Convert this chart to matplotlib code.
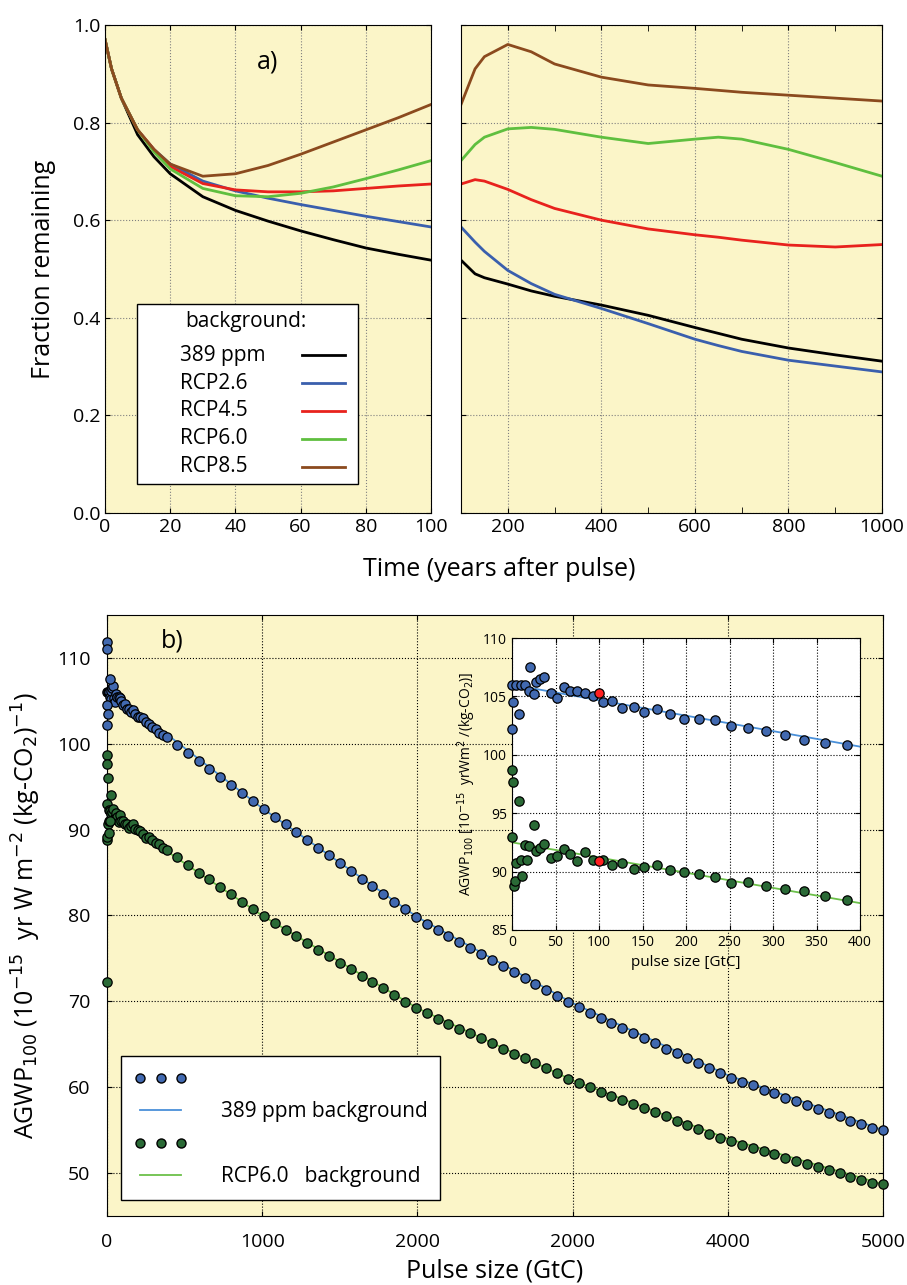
import matplotlib
matplotlib.use("Agg")
import matplotlib.pyplot as plt
from matplotlib.lines import Line2D
from matplotlib.patches import Rectangle

plt.rcParams['font.family'] = ['Open Sans', 'DejaVu Sans']

# ---- panel a) fraction remaining
yrs_a = [0, 2, 5, 10, 15, 20, 30, 40, 50, 60, 70, 80, 90, 100]
short = {
    "389 ppm": [0.97, 0.91, 0.85, 0.775, 0.73, 0.695, 0.648, 0.62, 0.598, 0.578, 0.56, 0.543, 0.53, 0.518],
    "RCP2.6": [0.97, 0.91, 0.85, 0.785, 0.745, 0.715, 0.68, 0.66, 0.645, 0.632, 0.62, 0.608, 0.597, 0.586],
    "RCP4.5": [0.97, 0.91, 0.85, 0.785, 0.745, 0.71, 0.675, 0.662, 0.658, 0.658, 0.66, 0.665, 0.67, 0.674],
    "RCP6.0": [0.97, 0.91, 0.85, 0.785, 0.74, 0.705, 0.665, 0.65, 0.648, 0.655, 0.668, 0.685, 0.703, 0.722],
    "RCP8.5": [0.97, 0.91, 0.85, 0.785, 0.745, 0.715, 0.69, 0.695, 0.712, 0.735, 0.76, 0.785, 0.81, 0.837],
}
yrs_b = [100, 130, 150, 200, 250, 300, 400, 500, 600, 650, 700, 800, 900, 1000]
long = {
    "389 ppm": [0.518, 0.49, 0.482, 0.469, 0.455, 0.444, 0.426, 0.405, 0.38, 0.368, 0.356, 0.338, 0.324, 0.311],
    "RCP2.6": [0.586, 0.555, 0.536, 0.497, 0.47, 0.448, 0.419, 0.388, 0.356, 0.343, 0.331, 0.313, 0.301, 0.289],
    "RCP4.5": [0.674, 0.683, 0.68, 0.663, 0.642, 0.624, 0.60, 0.582, 0.57, 0.565, 0.559, 0.549, 0.545, 0.55],
    "RCP6.0": [0.722, 0.755, 0.77, 0.787, 0.79, 0.786, 0.77, 0.757, 0.766, 0.77, 0.766, 0.745, 0.718, 0.69],
    "RCP8.5": [0.837, 0.91, 0.935, 0.96, 0.945, 0.92, 0.893, 0.877, 0.87, 0.866, 0.862, 0.856, 0.85, 0.844],
}
colors_a = {"389 ppm": "black", "RCP2.6": "#3a5fad", "RCP4.5": "#e8221d",
            "RCP6.0": "#5fbf3f", "RCP8.5": "#8b4a1e"}

# ---- panel b) AGWP100 vs pulse size
pulse_small = [0, 5, 10, 15, 20, 25, 28, 32, 37, 45, 52, 60, 67, 75, 84, 93, 105, 115, 127,
               140, 152, 167, 182, 198, 215, 233, 252, 271, 292, 314, 336, 360, 385]
agwp_389_small = [106, 106, 106, 106, 105.5, 105.2, 106.2, 106.5, 106.7, 105.3, 104.9, 105.8, 105.5,
                  105.5, 105.3, 105, 104.5, 104.6, 104, 104.1, 103.7, 103.9, 103.5, 103.1, 103.1,
                  103, 102.5, 102.3, 102, 101.7, 101.3, 101, 100.8]
agwp_rcp_small = [93, 90.7, 91, 92.3, 92.2, 94, 91.8, 92, 92.4, 91.2, 91.3, 91.9, 91.5, 90.9, 91.7,
                  91, 91, 90.6, 90.7, 90.2, 90.4, 90.6, 90.1, 90, 89.8, 89.5, 89, 89.1, 88.8, 88.5,
                  88.3, 87.9, 87.6]
outl_389_x = [0, 1, 8, 21, 0, 0]
outl_389_y = [102.2, 104.5, 103.5, 107.5, 111.8, 111.0]
outl_rcp_x = [0, 1, 8, 2, 3, 12, 17, 0]
outl_rcp_y = [98.7, 97.7, 96, 88.8, 89.2, 89.6, 91, 72.3]
red_x = [100, 100]
red_y = [105.3, 90.9]

pulse_big = list(range(450, 5001, 70))
agwp_389_big = [99.9, 98.9, 98.0, 97.1, 96.1, 95.2, 94.3, 93.3, 92.4, 91.5, 90.6, 89.7, 88.8, 87.9,
                87.0, 86.1, 85.2, 84.3, 83.4, 82.5, 81.6, 80.7, 79.8, 79.0, 78.3, 77.6, 76.9, 76.2,
                75.5, 74.8, 74.1, 73.4, 72.7, 72.0, 71.3, 70.6, 69.9, 69.3, 68.7, 68.1, 67.5, 66.9,
                66.3, 65.7, 65.1, 64.5, 64.0, 63.4, 62.8, 62.2, 61.6, 61.1, 60.6, 60.2, 59.7, 59.3,
                58.8, 58.4, 57.9, 57.5, 57.0, 56.6, 56.1, 55.7, 55.2, 55.0]
agwp_rcp_big = [86.8, 85.9, 85.0, 84.2, 83.3, 82.5, 81.6, 80.8, 79.9, 79.1, 78.3, 77.6, 76.8, 76.0,
                75.3, 74.5, 73.8, 73.0, 72.3, 71.5, 70.7, 69.9, 69.2, 68.6, 68.0, 67.4, 66.8, 66.3,
                65.7, 65.1, 64.5, 63.9, 63.4, 62.8, 62.2, 61.6, 61.0, 60.5, 60.0, 59.5, 59.0, 58.5,
                58.0, 57.6, 57.1, 56.6, 56.1, 55.6, 55.1, 54.6, 54.1, 53.7, 53.3, 52.9, 52.6, 52.2,
                51.8, 51.4, 51.1, 50.7, 50.3, 50.0, 49.6, 49.2, 48.9, 48.7]
fit_x = [0, 400, 1000, 2000, 3000, 4000, 5000]
fit_389 = [106, 100.9, 92.5, 79.8, 69.8, 61.4, 55.0]
fit_rcp = [92.0, 87.3, 80.0, 69.2, 60.8, 54.0, 48.7]

bg = "#fbf5c8"
dot_blue = "#4169b0"
dot_green = "#2a6a36"
line_blue = "#4a90d9"
line_green = "#6cc04a"

fig = plt.figure(figsize=(9.07, 12.85), dpi=100)

ax1 = fig.add_axes([0.1158, 0.6008, 0.3594, 0.3798])
ax2 = fig.add_axes([0.5083, 0.6008, 0.4642, 0.3798])
for name in short:
    ax1.plot(yrs_a, short[name], color=colors_a[name], lw=2, label=name)
    ax2.plot(yrs_b, long[name], color=colors_a[name], lw=2)
ax1.set_xlim(0, 100)
ax2.set_xlim(100, 1000)
for ax in (ax1, ax2):
    ax.set_facecolor(bg)
    ax.set_ylim(0, 1.0)
    ax.grid(True, ls=':', color='gray', lw=0.8)
    ax.tick_params(labelsize=14, direction='in', top=True, right=True, which='both')
ax1.set_xticks([0, 20, 40, 60, 80, 100])
ax1.set_yticks([0, 0.2, 0.4, 0.6, 0.8, 1.0])
ax2.set_xticks([200, 400, 600, 800, 1000])
ax2.set_xticks([300, 500, 700, 900], minor=True)
ax2.set_yticks([0, 0.2, 0.4, 0.6, 0.8, 1.0])
ax2.tick_params(labelleft=False)
ax2.tick_params(which='minor', length=4)
ax1.set_ylabel("Fraction remaining", fontsize=18, labelpad=12)
ax1.text(50, 0.95, "a)", fontsize=18, va='top', ha='center')
fig.text(0.55, 0.557, "Time (years after pulse)", fontsize=18, ha='center', va='center')

# legend of panel a): labels on the left, keys on the right
tr = ax1.transAxes
ax1.add_patch(Rectangle((0.098, 0.06), 0.678, 0.369, transform=tr, facecolor='white',
                        edgecolor='black', lw=1, zorder=5))
ax1.text(0.245, 0.392, "background:", transform=tr, fontsize=15, va='center', zorder=6)
for i, name in enumerate(short):
    yy = 0.323 - i * 0.057
    ax1.text(0.23, yy, name, transform=tr, fontsize=15, va='center', zorder=6)
    ax1.plot([0.605, 0.735], [yy, yy], transform=tr, color=colors_a[name], lw=2, zorder=6)

# ---- bottom panel
ax3 = fig.add_axes([0.118, 0.0537, 0.8556, 0.4677])
ax3.set_facecolor(bg)
ax3.plot(fit_x, fit_389, color=line_blue, lw=1.3, zorder=2)
ax3.plot(fit_x, fit_rcp, color=line_green, lw=1.3, zorder=2)
kw = dict(s=45, edgecolors='black', linewidths=0.9, zorder=3, clip_on=False)
ax3.scatter(pulse_small + pulse_big + outl_389_x, agwp_389_small + agwp_389_big + outl_389_y,
            color=dot_blue, **kw)
ax3.scatter(pulse_small + pulse_big + outl_rcp_x, agwp_rcp_small + agwp_rcp_big + outl_rcp_y,
            color=dot_green, **kw)
ax3.set_xlim(0, 5000)
ax3.set_ylim(45, 115)
ax3.set_xticks([0, 1000, 2000, 3000, 4000, 5000])
ax3.set_xticklabels(['0', '1000', '2000', '2000', '4000', '5000'])
ax3.set_yticks([50, 60, 70, 80, 90, 100, 110])
ax3.grid(True, ls=':', color='black', lw=0.8)
ax3.tick_params(labelsize=14, direction='in', pad=12, top=True, right=True)
ax3.set_xlabel("Pulse size (GtC)", fontsize=18, labelpad=6)
ax3.set_ylabel(r"AGWP$_{100}$ (10$^{-15}$  yr W m$^{-2}$ (kg-CO$_2$)$^{-1}$)", fontsize=18,
               labelpad=10)
ax3.text(350, 112, "b)", fontsize=18, va='center')

h1 = Line2D([], [], ls='', marker='o', markersize=6.5, markerfacecolor=dot_blue,
            markeredgecolor='black')
l1 = Line2D([], [], color=line_blue, lw=1.3)
h2 = Line2D([], [], ls='', marker='o', markersize=6.5, markerfacecolor=dot_green,
            markeredgecolor='black')
l2 = Line2D([], [], color=line_green, lw=1.3)
leg2 = ax3.legend([h1, l1, h2, l2], ['', '389 ppm background', '', 'RCP6.0   background'],
                  loc='lower left', bbox_to_anchor=(0.018, 0.027), fontsize=15, numpoints=3,
                  fancybox=False, edgecolor='black', borderpad=0.6, labelspacing=0.55,
                  handlelength=2.6, handletextpad=1.6, borderaxespad=0)
leg2.get_frame().set_facecolor('white')
leg2.get_frame().set_alpha(1)

# inset
ax4 = fig.add_axes([0.5645, 0.2763, 0.3837, 0.2272])
ax4.plot([0, 400], [106, 100.7], color=line_blue, lw=1.3, zorder=2)
ax4.plot([0, 400], [92.5, 87.3], color=line_green, lw=1.3, zorder=2)
kw4 = dict(s=45, edgecolors='black', linewidths=0.9, zorder=3, clip_on=False)
ax4.scatter(pulse_small + outl_389_x[:4], agwp_389_small + outl_389_y[:4], color=dot_blue, **kw4)
ax4.scatter(pulse_small + outl_rcp_x[:7], agwp_rcp_small + outl_rcp_y[:7], color=dot_green, **kw4)
ax4.scatter(red_x, red_y, color='#ff2020', **kw4)
ax4.set_xlim(0, 400)
ax4.set_ylim(85, 110)
ax4.grid(True, ls=':', color='black', lw=0.8)
ax4.tick_params(labelsize=10, direction='in', top=True, right=True)
ax4.set_xlabel("pulse size [GtC]", fontsize=11)
ax4.set_ylabel(r"AGWP$_{100}$ [10$^{-15}$  yrWm$^{2}$ /(kg-CO$_2$)]", fontsize=10)

fig.savefig("out.png", dpi=100)
